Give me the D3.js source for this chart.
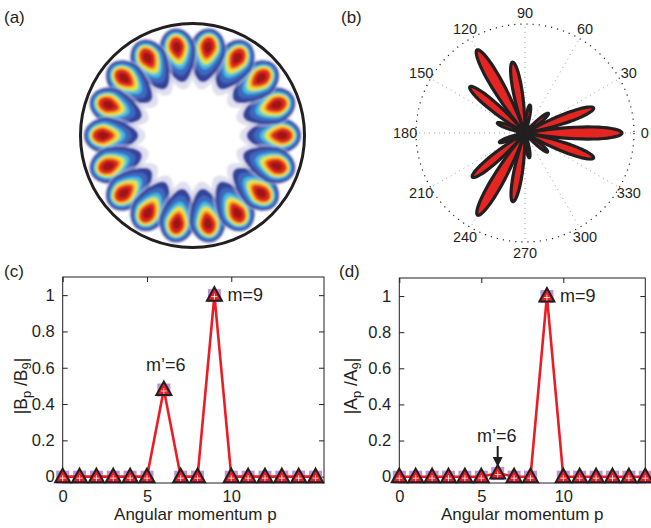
<!DOCTYPE html>
<html>
<head>
<meta charset="utf-8">
<script src="https://cdn.jsdelivr.net/npm/d3@7"></script>
<style>
body { margin: 0; background: #fff; }
text { font-family: "Liberation Sans", Arial, sans-serif; fill: #231f20; }
</style>
</head>
<body>
<svg id="fig" width="651" height="528"></svg>
<script>
// (a) angular positions of the 18 intensity lobes (degrees)
var lobeAngles = [0, 20, 40, 60, 80, 100, 120, 140, 160, 180, 200, 220, 240, 260, 280, 300, 320, 340];
// contour levels of one lobe, outer to inner (colour of each band)
var lobeColors = ["#c4c4e4", "#34439a", "#3d68be", "#3db8e5", "#96d5a2", "#f3e338", "#f29a27", "#e0261f", "#9b1217"];

// (b) far-field petals: direction (deg) and relative length
var petalAngles = [0, 20, 40, 60, 80, 100, 120, 140, 160, 180, 200, 220, 240, 260, 280, 300, 320, 340];
var petalAmps = [0.89, 0.67, 0.28, 0.04, 0.26, 0.66, 0.88, 0.66, 0.27, 0.04, 0.25, 0.63, 0.87, 0.64, 0.23, 0.04, 0.27, 0.67];
var polarTicks = [0, 30, 60, 90, 120, 150, 180, 210, 240, 270, 300, 330];

// (c), (d) spectra
var pVals = [0, 1, 2, 3, 4, 5, 6, 7, 8, 9, 10, 11, 12, 13, 14, 15];
var bRatio = [0, 0, 0, 0, 0, 0, 0.48, 0, 0, 1, 0, 0, 0, 0, 0, 0];
var aRatio = [0, 0, 0, 0, 0, 0, 0.02, 0, 0, 1, 0, 0, 0, 0, 0, 0];
var yTicks = [0, 0.2, 0.4, 0.6, 0.8, 1];
var xTicks = [0, 5, 10];

var svg = d3.select("#fig");
var rad = Math.PI / 180;

// ---------- panel labels
[["(a)", 4, 23], ["(b)", 341, 23], ["(c)", 4, 277], ["(d)", 339, 277]].forEach(function(l) {
  svg.append("text").attr("x", l[1]).attr("y", l[2]).style("font-size", "17px").text(l[0]);
});

// ---------- (a) mode pattern
var ca = {x: 192.5, y: 135.5, r: 112};
var defs = svg.append("defs");
defs.append("clipPath").attr("id", "discClip")
  .append("circle").attr("cx", ca.x).attr("cy", ca.y).attr("r", ca.r - 1);
defs.append("filter").attr("id", "soft").attr("x", "-20%").attr("y", "-20%").attr("width", "140%").attr("height", "140%")
  .append("feGaussianBlur").attr("stdDeviation", 1.2);

// band shapes in units of disc radius: centre u, outward/inward half length, half width
var bands = [
  {u: 0.75, ao: 0.225, ai: 0.33, b: 0.178},
  {u: 0.76, ao: 0.207, ai: 0.275, b: 0.16},
  {u: 0.77, ao: 0.185, ai: 0.225, b: 0.142},
  {u: 0.78, ao: 0.155, ai: 0.18, b: 0.118},
  {u: 0.785, ao: 0.135, ai: 0.152, b: 0.102},
  {u: 0.79, ao: 0.125, ai: 0.138, b: 0.094},
  {u: 0.795, ao: 0.105, ai: 0.112, b: 0.078},
  {u: 0.80, ao: 0.09, ai: 0.096, b: 0.065},
  {u: 0.80, ao: 0.05, ai: 0.056, b: 0.036}
];

function eggPath(s) {
  var pts = d3.range(0, 360, 6).map(function(t) {
    var c = Math.cos(t * rad), sn = Math.sin(t * rad);
    var u = s.u + (c >= 0 ? s.ao : s.ai) * c;
    var v = s.b * sn * (c >= 0 ? 1 : 1 + 0.3 * c);
    return [u * ca.r, v * ca.r];
  });
  return d3.line().curve(d3.curveCardinalClosed)(pts);
}

var lobeG = svg.append("g").attr("clip-path", "url(#discClip)")
  .append("g").attr("filter", "url(#soft)");
lobeAngles.forEach(function(a) {
  var g = lobeG.append("g")
    .attr("transform", "translate(" + ca.x + "," + ca.y + ") rotate(" + (-a) + ")");
  bands.forEach(function(s, i) {
    g.append("path").attr("d", eggPath(s)).attr("fill", lobeColors[i])
      .attr("opacity", i === 0 ? 0.55 : 1);
  });
});
svg.append("circle").attr("cx", ca.x).attr("cy", ca.y).attr("r", ca.r)
  .attr("fill", "none").attr("stroke", "#231f20").attr("stroke-width", 3);

// ---------- (b) polar plot
var cb = {x: 525, y: 133, r: 109};
var rScale = d3.scaleLinear().domain([0, 1]).range([0, cb.r]);
var pg = svg.append("g").attr("transform", "translate(" + cb.x + "," + cb.y + ")");

polarTicks.forEach(function(t) {
  pg.append("line")
    .attr("x1", 0).attr("y1", 0)
    .attr("x2", rScale(1) * Math.cos(t * rad)).attr("y2", -rScale(1) * Math.sin(t * rad))
    .attr("stroke", "#888").attr("stroke-width", 0.8).attr("stroke-dasharray", "1,4");
  pg.append("text")
    .attr("x", rScale(1.1) * Math.cos(t * rad)).attr("y", -rScale(1.1) * Math.sin(t * rad))
    .attr("text-anchor", "middle").attr("dy", "0.35em")
    .style("font-size", "14.5px").text(t);
});
pg.append("circle").attr("r", rScale(1)).attr("fill", "none")
  .attr("stroke", "#231f20").attr("stroke-width", 1.2).attr("stroke-dasharray", "1.2,5");

var petal = d3.lineRadial().curve(d3.curveLinearClosed);
function petalPath(a, amp) {
  var pts = d3.range(-10, 10.01, 0.5).map(function(o) {
    return [(90 - a - o) * rad, rScale(amp * Math.cos(9 * o * rad))];
  });
  return petal(pts);
}
pg.append("circle").attr("r", 9).attr("fill", "#231f20");
pg.selectAll("path.petal").data(petalAngles).enter().append("path")
  .attr("class", "petal")
  .attr("d", function(a, i) { return petalPath(a, petalAmps[i]); })
  .attr("fill", "#e52521").attr("stroke", "#231f20").attr("stroke-width", 3.2)
  .attr("stroke-linejoin", "round");

// ---------- (c), (d) spectra
function spectrum(o) {
  var x = d3.scaleLinear().domain([0, o.xMax]).range([o.left, o.right]);
  var y = d3.scaleLinear().domain([-0.035, 1.1]).range([483, o.top]);
  var g = svg.append("g");

  var fmt = function(d) { return d === 0 || d === 1 ? String(d) : d3.format(".1f")(d); };
  g.append("g").attr("transform", "translate(" + o.left + ",0)")
    .call(d3.axisLeft(y).tickValues(yTicks).tickSize(-5).tickPadding(8).tickFormat(fmt));
  g.append("g").attr("transform", "translate(" + o.right + ",0)")
    .call(d3.axisRight(y).tickValues(yTicks).tickSize(-5).tickFormat(""));
  g.append("g").attr("transform", "translate(0,483)")
    .call(d3.axisBottom(x).tickValues(xTicks).tickSize(-5).tickPadding(7));
  g.append("g").attr("transform", "translate(0," + o.top + ")")
    .call(d3.axisTop(x).tickValues(xTicks).tickSize(-5).tickFormat(""));
  g.selectAll(".domain").remove();
  g.selectAll(".tick line").attr("stroke", "#231f20");
  g.selectAll(".tick text").style("font-size", "16.5px").style("font-family", "Liberation Sans, Arial, sans-serif").attr("fill", "#231f20");
  g.append("rect").attr("x", o.left).attr("y", o.top)
    .attr("width", o.right - o.left).attr("height", 483 - o.top)
    .attr("fill", "none").attr("stroke", "#231f20").attr("stroke-width", 1);

  var pts = pVals.map(function(p, i) { return {p: p, v: o.data[i]}; });

  // purple squares
  g.selectAll("rect.sq").data(pts).enter().append("rect").attr("class", "sq")
    .attr("x", function(d) { return x(d.p) - 6.5; }).attr("y", function(d) { return y(d.v) - 6; })
    .attr("width", 13).attr("height", 13).attr("fill", "#bf93d2");
  // red line
  g.append("path").datum(pts)
    .attr("d", d3.line().x(function(d) { return x(d.p); }).y(function(d) { return y(d.v); }))
    .attr("fill", "none").attr("stroke", "#ec1c24").attr("stroke-width", 2.6);
  // triangles
  var tri = g.selectAll("g.tri").data(pts).enter().append("g").attr("class", "tri")
    .attr("transform", function(d) { return "translate(" + x(d.p) + "," + y(d.v) + ")"; });
  tri.append("path").attr("d", "M0,-8L7.5,5.5L-7.5,5.5Z")
    .attr("fill", "#ec1c24").attr("stroke", "#231f20").attr("stroke-width", 2).attr("stroke-linejoin", "miter");
  tri.append("path").attr("d", "M-3,1.5H3M0,-1.5V4.5")
    .attr("stroke", "#fff").attr("stroke-width", 0.8);

  // labels
  g.append("text").attr("x", (o.left + o.right) / 2 + o.xlabDx).attr("y", 520)
    .attr("text-anchor", "middle").style("font-size", "17px").text("Angular momentum p");
  var yl = g.append("text").attr("transform", "translate(" + o.ylabX + ",386) rotate(-90)")
    .attr("text-anchor", "middle").style("font-size", "17.5px");
  yl.append("tspan").text("|" + o.sym);
  yl.append("tspan").attr("dy", 4).style("font-size", "13px").text("p");
  yl.append("tspan").attr("dy", -4).text(" /" + o.sym);
  yl.append("tspan").attr("dy", 4).style("font-size", "13px").text("9");
  yl.append("tspan").attr("dy", -4).text("|");

  g.append("text").attr("x", x(9) + 13).attr("y", y(1) + 6).style("font-size", "18px").text("m=9");
  return {g: g, x: x, y: y};
}

var c = spectrum({left: 62.7, right: 324, xMax: 15.5, top: 277, data: bRatio, sym: "B", ylabX: 27, xlabDx: 2});
c.g.append("text").attr("x", c.x(6) + 2).attr("y", c.y(0.48) - 19)
  .attr("text-anchor", "middle").style("font-size", "18px").text("m\u2019=6");

var dpan = spectrum({left: 399.3, right: 645.3, xMax: 15, top: 278, data: aRatio, sym: "A", ylabX: 357, xlabDx: 0});
dpan.g.append("text").attr("x", dpan.x(6) - 1).attr("y", 442)
  .attr("text-anchor", "middle").style("font-size", "18px").text("m\u2019=6");
dpan.g.append("line").attr("x1", dpan.x(6)).attr("x2", dpan.x(6)).attr("y1", 446).attr("y2", 460)
  .attr("stroke", "#231f20").attr("stroke-width", 2);
dpan.g.append("path")
  .attr("d", "M" + (dpan.x(6) - 5) + ",457L" + (dpan.x(6) + 5) + ",457L" + dpan.x(6) + ",467Z")
  .attr("fill", "#231f20");
</script>
</body>
</html>
